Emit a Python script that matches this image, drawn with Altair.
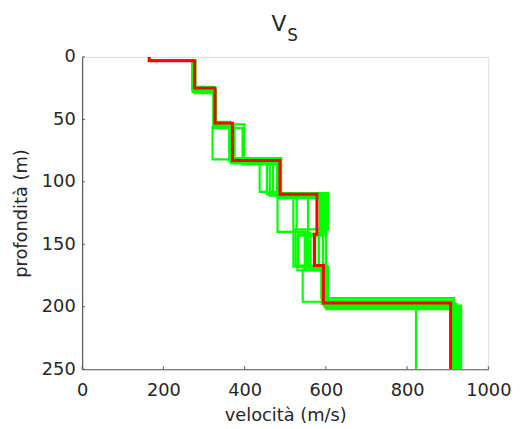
import altair as alt
import pandas as pd

# velocity (m/s) per layer and layer boundaries (m) for each realisation
g01_v = [165, 272, 324, 321, 437, 481, 548, 543, 822]
g01_d = [0, 3, 28, 56, 82, 108, 140, 170, 196, 250]
g02_v = [165, 275, 328, 399, 455, 528, 520, 589, 915]
g02_d = [0, 3, 26, 54, 84, 110, 139, 168, 193, 250]
g03_v = [165, 278, 326, 372, 462, 601, 556, 590, 920]
g03_d = [0, 3, 25, 53, 85, 111, 142, 169, 198, 250]
g04_v = [165, 274, 330, 368, 480, 585, 600, 596, 925]
g04_d = [0, 3, 27, 55, 83, 112, 141, 166, 200, 250]
g05_v = [165, 276, 325, 365, 490, 595, 530, 602, 930]
g05_d = [0, 3, 24, 52, 81, 110, 143, 171, 201, 250]
g06_v = [165, 279, 329, 375, 485, 605, 525, 598, 912]
g06_d = [0, 3, 26, 56, 84, 109, 138, 167, 195, 250]
g07_v = [165, 273, 327, 370, 470, 590, 593, 605, 933]
g07_d = [0, 3, 25, 54, 83, 111, 140, 168, 199, 250]
g08_v = [165, 277, 323, 395, 488, 556, 562, 593, 918]
g08_d = [0, 3, 29, 57, 86, 110, 141, 170, 197, 250]
g09_v = [165, 276, 327, 362, 483, 598, 532, 600, 926]
g09_d = [0, 3, 25, 53, 83, 113, 142, 168, 202, 250]
g10_v = [165, 271, 326, 368, 480, 588, 583, 597, 910]
g10_d = [0, 3, 26, 55, 84, 110, 141, 169, 196, 250]
g11_v = [165, 274, 325, 370, 482, 520, 552, 594, 922]
g11_d = [0, 3, 27, 54, 83, 110, 140, 171, 198, 250]
g12_v = [165, 277, 328, 366, 486, 592, 574, 603, 928]
g12_d = [0, 3, 25, 55, 85, 111, 142, 167, 200, 250]

red_v = [165, 277, 327, 370, 487, 578, 572, 594, 907]
red_d = [0, 3, 25, 53, 83, 110, 142, 167, 197, 250]

x_ticks = [0, 200, 400, 600, 800, 1000]
y_ticks = [0, 50, 100, 150, 200, 250]

greens = [
    ("g01", g01_v, g01_d), ("g02", g02_v, g02_d), ("g03", g03_v, g03_d),
    ("g04", g04_v, g04_d), ("g05", g05_v, g05_d), ("g06", g06_v, g06_d),
    ("g07", g07_v, g07_d), ("g08", g08_v, g08_d), ("g09", g09_v, g09_d),
    ("g10", g10_v, g10_d), ("g11", g11_v, g11_d), ("g12", g12_v, g12_d),
]


def stairs(name, v, d):
    rows = []
    i = 0
    for k in range(len(v)):
        rows.append({"p": name, "i": i, "v": v[k], "d": d[k]}); i += 1
        rows.append({"p": name, "i": i, "v": v[k], "d": d[k + 1]}); i += 1
    return rows


green_rows = []
for name, v, d in greens:
    green_rows += stairs(name, v, d)
green_df = pd.DataFrame(green_rows)
red_df = pd.DataFrame(stairs("red", red_v, red_d))

W, H = 411, 316
FONT = "DejaVu Sans"
TXT = "#262626"
AX = "#5a5a5a"

xs = alt.Scale(domain=[0, 1000], nice=False, zero=False)
ys = alt.Scale(domain=[0, 250], nice=False, zero=False, reverse=True)

x_axis = alt.Axis(
    values=x_ticks, format="d", title="velocità (m/s)", grid=False, ticks=False,
    labelPadding=13, labelFontSize=18, labelFont=FONT, labelColor=TXT,
    titleFontSize=18, titleFont=FONT, titleColor=TXT, titleFontWeight="normal",
    titleBaseline="alphabetic", titleY=51.5, titleX=W / 2, titleAlign="center",
    domainColor=AX, domainWidth=1.2, labelFlush=False,
)
y_axis = alt.Axis(
    values=y_ticks, format="d", title="profondità (m)", grid=False, ticks=False,
    labelPadding=7, labelFontSize=18, labelFont=FONT, labelColor=TXT,
    titleFontSize=18, titleFont=FONT, titleColor=TXT, titleFontWeight="normal",
    titleBaseline="alphabetic", titleX=-56.5, titleY=H / 2, titleAlign="center",
    titleAngle=270, domainColor=AX, domainWidth=1.2, labelFlush=False,
)

# chart title "V" with subscript "S", as two titles placed above the plot
title_v_axis = alt.Axis(
    orient="top", domain=False, labels=False, ticks=False, grid=False,
    title="V", titleX=198.5, titleY=-26.5, titleBaseline="alphabetic",
    titleAlign="center", titleFontSize=22, titleFont=FONT, titleColor=TXT,
    titleFontWeight="normal",
)
title_s_axis = alt.Axis(
    orient="right", domain=False, labels=False, ticks=False, grid=False,
    title="S", titleAngle=0, titleX=212.5 - W, titleY=-16.5,
    titleBaseline="alphabetic", titleAlign="center", titleFontSize=17,
    titleFont=FONT, titleColor=TXT, titleFontWeight="normal",
)

green = alt.Chart(green_df).mark_line(
    color="#00ff00", strokeWidth=2.2, clip=True, strokeJoin="miter"
).encode(
    x=alt.X("v:Q", scale=xs, axis=x_axis),
    y=alt.Y("d:Q", scale=ys, axis=y_axis),
    detail="p:N",
    order="i:Q",
)

red = alt.Chart(red_df).mark_line(
    color="#ff0000", strokeWidth=3, clip=True, strokeJoin="miter"
).encode(
    x=alt.X("v:Q", scale=xs, axis=None),
    y=alt.Y("d:Q", scale=ys, axis=None),
    order="i:Q",
)

xt = alt.Chart(pd.DataFrame({"t": x_ticks})).mark_rule(color=AX, strokeWidth=1).encode(
    x=alt.X("t:Q", scale=xs, axis=title_v_axis), y=alt.value(H), y2=alt.value(H - 3)
)
yt = alt.Chart(pd.DataFrame({"t": y_ticks})).mark_rule(color=AX, strokeWidth=1).encode(
    y=alt.Y("t:Q", scale=ys, axis=title_s_axis), x=alt.value(0), x2=alt.value(3)
)

chart = alt.layer(green, red, xt, yt).resolve_axis(
    x="independent", y="independent"
).properties(
    width=W,
    height=H,
    autosize=alt.AutoSizeParams(type="none"),
    padding={"left": 75, "top": 47, "right": 30, "bottom": 58},
).configure_view(stroke=None).configure(background="white")

chart.save("out.html", embed_options={"renderer": "svg", "actions": False})
